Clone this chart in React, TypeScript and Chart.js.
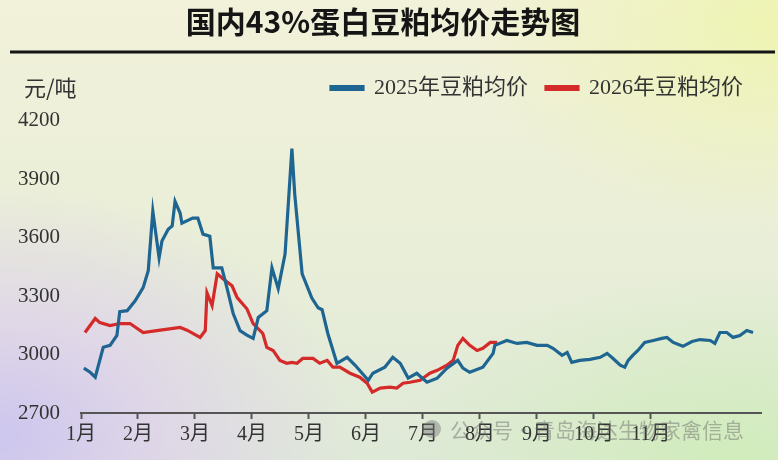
import React, { useEffect, useRef } from "react";
import { Chart, registerables } from "chart.js";

Chart.register(...registerables);

const titleText = "国内43%蛋白豆粕均价走势图";
const unitText = "元/吨";
const watermarkText = "公众号·青岛海达生物家禽信息";
const seriesNames = ["2025年豆粕均价", "2026年豆粕均价"];
const monthLabels = ["1月", "2月", "3月", "4月", "5月", "6月", "7月", "8月", "9月", "10月", "11月"];
const yTickValues = [2700, 3000, 3300, 3600, 3900, 4200];

// x in months since 1月 (0 = 1月)
const blueX = [
  0.05, 0.16, 0.25, 0.39, 0.51, 0.63, 0.68, 0.81, 0.95, 1.09, 1.18, 1.26, 1.37, 1.42, 1.53, 1.6, 1.65,
  1.74, 1.77, 1.96, 2.05, 2.14, 2.26, 2.32, 2.47, 2.56, 2.67, 2.79, 2.91, 3.02, 3.11, 3.26, 3.35, 3.46,
  3.58, 3.7, 3.75, 3.88, 4.05, 4.16, 4.23, 4.33, 4.49, 4.67, 4.81, 5.04, 5.12, 5.33, 5.47, 5.6, 5.74,
  5.89, 6.07, 6.25, 6.42, 6.61, 6.7, 6.82, 7.05, 7.23, 7.26, 7.47, 7.65, 7.82, 8.0, 8.18, 8.28, 8.44,
  8.53, 8.61, 8.75, 8.93, 9.11, 9.23, 9.33, 9.46, 9.54, 9.6, 9.68, 9.77, 9.89, 10.04, 10.19, 10.28,
  10.39, 10.56, 10.72, 10.86, 11.04, 11.12, 11.21, 11.33, 11.44, 11.56, 11.68, 11.79,
];
const blueY = [
  2930, 2909, 2884, 3037, 3047, 3098, 3220, 3225, 3276, 3343, 3430, 3735, 3496, 3582, 3643, 3660, 3786,
  3725, 3674, 3700, 3700, 3618, 3607, 3445, 3445, 3343, 3210, 3123, 3100, 3083, 3190, 3225, 3445, 3338,
  3516, 4057, 3822, 3414, 3290, 3240, 3230, 3108, 2955, 2986, 2945, 2868, 2904, 2935, 2986, 2955, 2879,
  2904, 2858, 2879, 2930, 2970, 2930, 2909, 2935, 3006, 3047, 3072, 3057, 3062, 3047, 3047, 3032, 2996,
  3011, 2960, 2970, 2975, 2986, 3006, 2981, 2945, 2935, 2970, 2996, 3021, 3062, 3072, 3083, 3088,
  3062, 3042, 3067, 3077, 3072, 3057, 3113, 3113, 3088, 3098, 3123, 3113,
];

const redX = [
  0.07, 0.25, 0.33, 0.51, 0.68, 0.86, 1.09, 1.33, 1.74, 1.86, 2.09, 2.18, 2.21, 2.3, 2.39, 2.49, 2.65,
  2.74, 2.91, 3.02, 3.19, 3.26, 3.37, 3.49, 3.61, 3.7, 3.79, 3.89, 4.07, 4.19, 4.32, 4.42, 4.54, 4.72,
  4.89, 5.02, 5.11, 5.25, 5.42, 5.54, 5.65, 5.77, 5.95, 6.12, 6.25, 6.42, 6.53, 6.61, 6.7, 6.82, 6.95,
  7.05, 7.18, 7.3,
];
const redY = [
  3113, 3185, 3164, 3149, 3159, 3159, 3113, 3123, 3139, 3125, 3088, 3123, 3317, 3251, 3414, 3389, 3353,
  3292, 3235, 3159, 3108, 3037, 3021, 2970, 2955, 2960, 2955, 2980, 2980, 2955, 2970, 2935, 2935, 2904,
  2884, 2853, 2807, 2828, 2833, 2828, 2853, 2858, 2868, 2904, 2919, 2945, 2970, 3047, 3083, 3047, 3021,
  3032, 3062, 3062,
];

const BLUE = "#1f6591";
const RED = "#d42a2a";
const SERIF = "'Liberation Serif', 'Noto Sans CJK SC', serif";
const SANS = "'Noto Sans CJK SC', sans-serif";

const decorPlugin = {
  id: "decor",
  afterDraw(chart: any) {
    const ctx = chart.ctx as CanvasRenderingContext2D;
    ctx.save();
    // rule under title
    ctx.strokeStyle = "#151515";
    ctx.lineWidth = 3;
    ctx.beginPath();
    ctx.moveTo(10, 52);
    ctx.lineTo(775, 52);
    ctx.stroke();
    // unit label
    ctx.fillStyle = "#333";
    ctx.font = `22px ${SANS}`;
    ctx.textBaseline = "middle";
    ctx.textAlign = "left";
    ctx.fillText(unitText, 24, 88);
    // watermark
    ctx.globalAlpha = 0.45;
    ctx.fillStyle = "#777";
    ctx.beginPath();
    ctx.arc(432, 429, 9, 0, Math.PI * 2);
    ctx.fill();
    ctx.fillStyle = "#666";
    ctx.font = `21px ${SANS}`;
    ctx.fillText(watermarkText, 450, 430);
    ctx.restore();
  },
};

export default function App() {
  const ref = useRef<HTMLCanvasElement | null>(null);

  useEffect(() => {
    if (!ref.current) return;
    const chart = new Chart(ref.current, {
      type: "line",
      data: {
        datasets: [
          {
            label: seriesNames[0],
            data: blueX.map((x, i) => ({ x, y: blueY[i] })),
            borderColor: BLUE,
            backgroundColor: BLUE,
            borderWidth: 3.2,
            pointRadius: 0,
            tension: 0,
          },
          {
            label: seriesNames[1],
            data: redX.map((x, i) => ({ x, y: redY[i] })),
            borderColor: RED,
            backgroundColor: RED,
            borderWidth: 3.2,
            pointRadius: 0,
            tension: 0,
          },
        ],
      },
      options: {
        responsive: false,
        animation: false,
        layout: { padding: { left: 5, right: 17, top: 0, bottom: 0 } },
        plugins: {
          title: {
            display: true,
            text: titleText,
            color: "#151515",
            font: { family: SANS, size: 30, weight: "bold" },
            padding: { top: 4, bottom: 19 },
          },
          legend: {
            display: true,
            position: "top",
            align: "end",
            labels: {
              boxWidth: 32,
              boxHeight: 3,
              padding: 18,
              color: "#333",
              font: { family: SERIF, size: 22 },
            },
          },
          tooltip: { enabled: false },
        },
        scales: {
          x: {
            type: "linear",
            min: 0,
            max: 11.93,
            afterBuildTicks: (s: any) => {
              s.ticks = monthLabels.map((_, i) => ({ value: i }));
            },
            afterFit: (s: any) => {
              s.height = 47;
            },
            ticks: {
              callback: (v: any) => monthLabels[Math.round(Number(v))] ?? "",
              color: "#333",
              font: { family: SERIF, size: 20 },
              padding: 4,
              maxRotation: 0,
              autoSkip: false,
            },
            grid: {
              drawOnChartArea: false,
              drawTicks: true,
              tickLength: 6,
              tickWidth: 2,
              tickColor: "#555",
            },
            border: { display: true, color: "#555", width: 2 },
          },
          y: {
            type: "linear",
            min: 2700,
            max: 4260,
            afterBuildTicks: (s: any) => {
              s.ticks = yTickValues.map((v) => ({ value: v }));
            },
            afterFit: (s: any) => {
              s.width = 76;
            },
            ticks: {
              callback: (v: any) => String(v),
              color: "#333",
              font: { family: SERIF, size: 21 },
              padding: 13,
            },
            grid: { display: false },
            border: { display: false },
          },
        },
      },
      plugins: [decorPlugin],
    });
    return () => chart.destroy();
  }, []);

  return (
    <div
      style={{
        position: "fixed",
        left: 0,
        top: 0,
        width: 778,
        height: 460,
        background:
          "radial-gradient(ellipse 45% 55% at 0% 95%, rgba(205,198,238,1) 0%, rgba(222,208,236,0.75) 45%, rgba(235,222,236,0) 100%)," +
          "radial-gradient(ellipse 40% 45% at 100% 5%, rgba(238,244,176,0.95) 0%, rgba(238,244,190,0) 100%)," +
          "radial-gradient(ellipse 45% 40% at 95% 100%, rgba(208,236,186,0.95) 0%, rgba(208,236,186,0) 100%)," +
          "linear-gradient(180deg, #f2f1da 0%, #ebefd8 45%, #dfe9d8 100%)",
      }}
    >
      <canvas ref={ref} width={778} height={460} style={{ display: "block" }} />
    </div>
  );
}
